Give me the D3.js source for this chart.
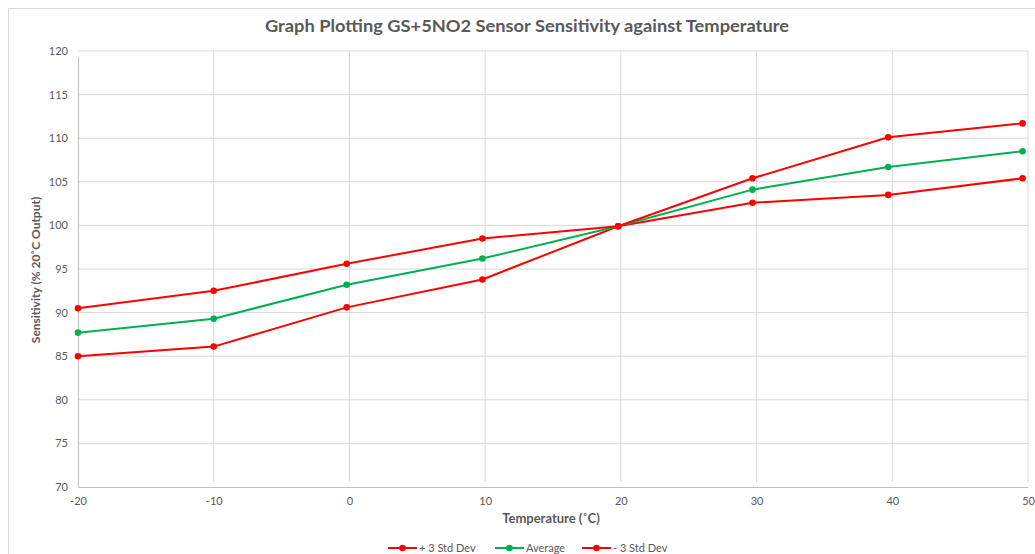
<!DOCTYPE html>
<html><head><meta charset="utf-8">
<script src="https://cdn.jsdelivr.net/npm/d3@7"></script>
<style>body{margin:0;background:#fff;}text{font-family:Lato,"Open Sans",sans-serif;}</style>
</head><body><svg id="c" width="1035" height="554"></svg>
<script>
const temps = [-20, -10, -0.2, 9.8, 19.8, 29.7, 39.7, 49.6];
const plus3 = [90.5, 92.5, 95.6, 98.5, 99.9, 105.4, 110.1, 111.7];
const average = [87.7, 89.3, 93.2, 96.2, 99.9, 104.1, 106.7, 108.5];
const minus3 = [85.0, 86.1, 90.6, 93.8, 99.9, 102.6, 103.5, 105.4];
const seriesNames = ["+ 3 Std Dev", "Average", "- 3 Std Dev"];
const xTicks = [-20, -10, 0, 10, 20, 30, 40, 50];
const yTicks = [70, 75, 80, 85, 90, 95, 100, 105, 110, 115, 120];

const svg = d3.select("#c");
const x = d3.scaleLinear().domain([-20, 50]).range([78, 1028]);
const y = d3.scaleLinear().domain([70, 120]).range([487, 51]);
const grey = "#595959";

// chart border
svg.append("rect").attr("x", 8.5).attr("y", 8.5).attr("width", 1040).attr("height", 560)
  .attr("fill", "none").attr("stroke", "#d9d9d9");

// title
svg.append("text").attr("x", 527).attr("y", 32).attr("text-anchor", "middle")
  .attr("font-size", 17).attr("font-weight", "bold").attr("fill", grey)
  .attr("textLength", 524).attr("lengthAdjust", "spacingAndGlyphs")
  .text("Graph Plotting GS+5NO2 Sensor Sensitivity against Temperature");

// horizontal gridlines
svg.append("g").selectAll("line").data(yTicks.slice(1)).join("line")
  .attr("x1", 78).attr("x2", 1028).attr("y1", d => y(d)).attr("y2", d => y(d))
  .attr("stroke", "#d9d9d9").attr("stroke-width", 1);
// vertical gridlines
svg.append("g").selectAll("line").data(xTicks.slice(1)).join("line")
  .attr("x1", d => x(d)).attr("x2", d => x(d)).attr("y1", 51).attr("y2", 482)
  .attr("stroke", "#d9d9d9").attr("stroke-width", 1);

// axes via d3
const fmt = d => String(d);
const yAxis = svg.append("g").attr("transform", "translate(78,0)")
  .call(d3.axisLeft(y).tickValues(yTicks).tickFormat(fmt).tickSize(0).tickPadding(10));
yAxis.select(".domain").attr("stroke", "#bfbfbf").attr("d", "M0.5,57V487");
yAxis.selectAll("text").attr("fill", grey).attr("font-size", 11).attr("font-family", "Lato,sans-serif");

const xAxis = svg.append("g").attr("transform", "translate(0,487)")
  .call(d3.axisBottom(x).tickValues(xTicks).tickFormat(fmt).tickSize(0).tickPadding(10));
xAxis.select(".domain").attr("stroke", "#bfbfbf");
xAxis.selectAll("text").attr("fill", grey).attr("font-size", 11).attr("font-family", "Lato,sans-serif");

// axis titles
svg.append("text").attr("transform", "translate(40,270) rotate(-90)").attr("text-anchor", "middle")
  .attr("font-size", 12).attr("font-weight", "bold").attr("fill", grey).text("Sensitivity (% 20˚C Output)");
svg.append("text").attr("x", 551).attr("y", 523).attr("text-anchor", "middle")
  .attr("font-size", 13).attr("font-weight", "bold").attr("fill", grey).text("Temperature (˚C)");

// series
const series = [
  {name: seriesNames[0], vals: plus3, color: "#ff0000"},
  {name: seriesNames[1], vals: average, color: "#00b050"},
  {name: seriesNames[2], vals: minus3, color: "#ff0000"}
];
const line = d3.line().x(d => x(d[0])).y(d => y(d[1]));
series.slice().reverse().forEach(s => {
  const pts = temps.map((t, i) => [t, s.vals[i]]);
  svg.append("path").datum(pts).attr("d", line).attr("fill", "none")
    .attr("stroke", s.color).attr("stroke-width", 2);
  svg.append("g").selectAll("circle").data(pts).join("circle")
    .attr("cx", d => x(d[0])).attr("cy", d => y(d[1])).attr("r", 3.3).attr("fill", s.color);
});

// legend
const legX = [388, 495, 582];
series.forEach((s, i) => {
  const g = svg.append("g").attr("transform", `translate(${legX[i]},548)`);
  g.append("line").attr("x1", 0).attr("x2", 29).attr("y1", 0).attr("y2", 0)
    .attr("stroke", s.color).attr("stroke-width", 2);
  g.append("circle").attr("cx", 14.5).attr("cy", 0).attr("r", 3.3).attr("fill", s.color);
  g.append("text").attr("x", 31).attr("y", 4).attr("font-size", 11).attr("fill", grey).text(s.name);
});
</script></body></html>
